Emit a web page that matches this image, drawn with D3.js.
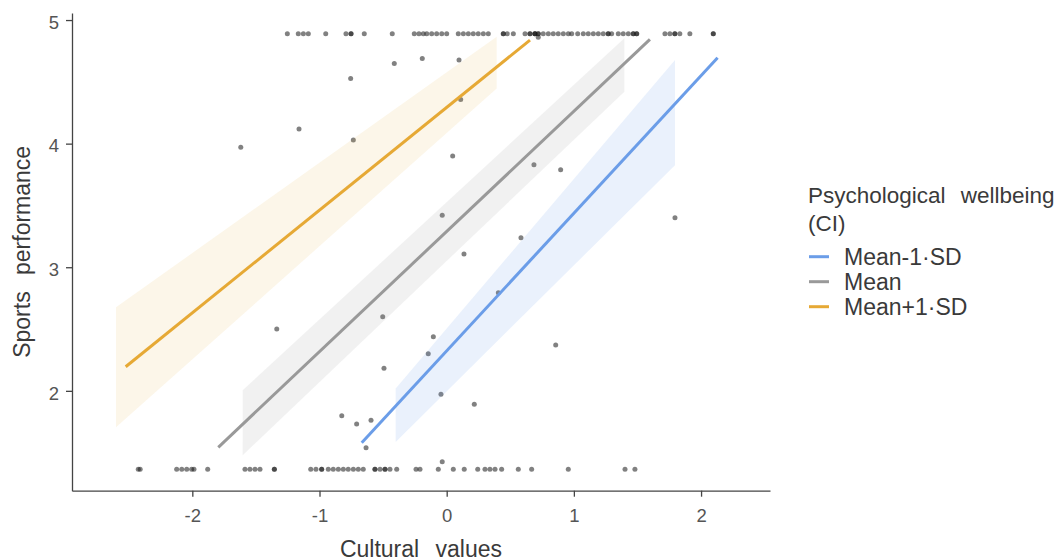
<!DOCTYPE html>
<html>
<head>
<meta charset="utf-8">
<script src="https://cdn.jsdelivr.net/npm/d3@7"></script>
<style>
  body { margin: 0; background: #fff; }
  svg { display: block; font-family: "Liberation Sans", Arial, sans-serif; }
</style>
</head>
<body>
<svg id="chart"></svg>
<script>
// scores piled up at the ceiling / floor of the scale
const topRowY = 4.89;
const topRowX = [-1.253, -1.167, -1.127, -1.088, -0.951, -0.792, -0.752, -0.752, -0.648, -0.428,
  -0.255, -0.218, -0.184, -0.157, -0.118, -0.079, -0.039, 0.000, 0.091, 0.131, 0.170, 0.209,
  0.248, 0.288, 0.327, 0.445, 0.445, 0.476, 0.524, 0.616, 0.655, 0.655, 0.694, 0.694, 0.694,
  0.720, 0.720, 0.759, 0.799, 0.838, 0.877, 0.917, 0.956, 0.983, 1.030, 1.074, 1.113, 1.153,
  1.192, 1.231, 1.270, 1.270, 1.297, 1.349, 1.388, 1.428, 1.467, 1.467, 1.494, 1.494, 1.716,
  1.755, 1.794, 1.794, 1.833, 1.912, 2.096, 2.096];

const bottomRowY = 1.365;
const bottomRowX = [-2.425, -2.41, -2.123, -2.083, -2.044, -2.005, -1.987, -1.879, -1.586, -1.547,
  -1.507, -1.468, -1.355, -1.355, -1.069, -1.028, -0.983, -0.983, -0.931, -0.892, -0.852,
  -0.813, -0.774, -0.734, -0.695, -0.656, -0.564, -0.564, -0.524, -0.485, -0.485, -0.446,
  -0.393, -0.241, -0.21, -0.066, 0.052, 0.138, 0.244, 0.301, 0.340, 0.380, 0.432, 0.563,
  0.668, 0.956, 1.402, 1.480];

// everything in between
const midX = [-0.755, -1.161, -0.734, -1.619, -0.412, -0.192, 0.097, 0.110, 0.047, 0.686, 0.896,
  -0.035, 0.584, 1.795, 0.136, -1.336, -0.503, 0.406, -0.105, -0.145, -0.493, 0.857, -0.045,
  0.217, -0.825, -0.708, -0.595, -0.634, -0.035, 0.720];
const midY = [4.528, 4.118, 4.029, 3.970, 4.648, 4.689, 4.676, 4.358, 3.900, 3.830, 3.789,
  3.420, 3.239, 3.401, 3.107, 2.500, 2.600, 2.794, 2.438, 2.300, 2.182, 2.371, 1.972,
  1.891, 1.799, 1.732, 1.762, 1.540, 1.426, 4.86];

// simple slopes, order: Mean-1SD, Mean, Mean+1SD
const groupNames = ['Mean-1\u00b7SD', 'Mean', 'Mean+1\u00b7SD'];
const groupColors = ['#6b9de8', '#999999', '#e6a935'];
const bandOpacity = [0.14, 0.14, 0.11];
const fitX = [[-0.668, 2.13], [-1.796, 1.598], [-2.524, 0.655]];
const fitY = [[1.58, 4.695], [1.543, 4.844], [2.195, 4.838]];
const bandX = [[-0.401, 1.795], [-1.604, 1.397], [-2.6, 0.393]];
const bandLow = [[1.587, 3.826], [1.479, 4.42], [1.705, 4.447]];
const bandHigh = [[2.019, 4.676], [2.005, 4.852], [2.676, 4.865]];

const xTicks = [-2, -1, 0, 1, 2];
const yTicks = [2, 3, 4, 5];

const width = 1064;
const height = 560;
const plot = { left: 72, right: 770, top: 13, bottom: 490.7 };

const svg = d3.select('#chart')
  .attr('width', width)
  .attr('height', height);

svg.append('rect')
  .attr('width', width)
  .attr('height', height)
  .attr('fill', '#fff');

const x = d3.scaleLinear().domain([-2.946, 2.542]).range([plot.left, plot.right]);
const y = d3.scaleLinear().domain([1.192, 5.057]).range([plot.bottom, plot.top]);

const points = [];
topRowX.forEach(function(v) { points.push({ x: v, y: topRowY }); });
bottomRowX.forEach(function(v) { points.push({ x: v, y: bottomRowY }); });
midX.forEach(function(v, i) { points.push({ x: v, y: midY[i] }); });

svg.append('g').attr('class', 'points')
  .selectAll('circle')
  .data(points)
  .enter()
  .append('circle')
  .attr('cx', function(d) { return x(d.x); })
  .attr('cy', function(d) { return y(d.y); })
  .attr('r', 2.5)
  .attr('fill', '#1a1a1a')
  .attr('fill-opacity', 0.55);

const groups = groupNames.map(function(name, i) {
  return {
    name: name,
    color: groupColors[i],
    opacity: bandOpacity[i],
    line: fitX[i].map(function(v, j) { return { x: v, y: fitY[i][j] }; }),
    band: bandX[i].map(function(v, j) { return { x: v, lo: bandLow[i][j], hi: bandHigh[i][j] }; })
  };
});

const area = d3.area()
  .x(function(d) { return x(d.x); })
  .y0(function(d) { return y(d.lo); })
  .y1(function(d) { return y(d.hi); });

const line = d3.line()
  .x(function(d) { return x(d.x); })
  .y(function(d) { return y(d.y); });

svg.append('g').attr('class', 'bands')
  .selectAll('path')
  .data(groups)
  .enter()
  .append('path')
  .attr('d', function(d) { return area(d.band); })
  .attr('fill', function(d) { return d.color; })
  .attr('fill-opacity', function(d) { return d.opacity; });

svg.append('g').attr('class', 'lines')
  .selectAll('path')
  .data(groups)
  .enter()
  .append('path')
  .attr('d', function(d) { return line(d.line); })
  .attr('fill', 'none')
  .attr('stroke', function(d) { return d.color; })
  .attr('stroke-width', 3);

// axes
const xAxis = svg.append('g')
  .attr('transform', 'translate(0,' + plot.bottom + ')')
  .call(d3.axisBottom(x).tickValues(xTicks).tickSize(6).tickSizeOuter(0).tickPadding(12)
    .tickFormat(function(d) { return String(d); }));

const yAxis = svg.append('g')
  .attr('transform', 'translate(' + plot.left + ',0)')
  .call(d3.axisLeft(y).tickValues(yTicks).tickSize(6).tickSizeOuter(0).tickPadding(7)
    .tickFormat(function(d) { return String(d); }));

[xAxis, yAxis].forEach(function(ax) {
  ax.select('.domain').attr('stroke', '#444').attr('stroke-width', 1.3);
  ax.selectAll('.tick line').attr('stroke', '#444').attr('stroke-width', 1.3);
  ax.selectAll('.tick text')
    .attr('fill', '#555')
    .style('font-size', '18.5px')
    .style('font-family', '"Liberation Sans", Arial, sans-serif');
});
yAxis.selectAll('.tick text').attr('dy', '0.45em');

svg.append('text')
  .attr('x', (plot.left + plot.right) / 2)
  .attr('y', 556.5)
  .attr('text-anchor', 'middle')
  .attr('fill', '#3a3a3a')
  .style('font-size', '23px')
  .style('word-spacing', '10px')
  .text('Cultural values');

svg.append('text')
  .attr('transform', 'translate(30,' + ((plot.top + plot.bottom) / 2) + ') rotate(-90)')
  .attr('text-anchor', 'middle')
  .attr('fill', '#3a3a3a')
  .style('font-size', '23px')
  .style('word-spacing', '10px')
  .text('Sports performance');

// legend
const legend = svg.append('g').attr('class', 'legend')
  .attr('transform', 'translate(808,0)');

legend.append('text')
  .attr('x', 0)
  .attr('y', 202.7)
  .attr('fill', '#3a3a3a')
  .style('font-size', '22.5px')
  .style('word-spacing', '9px')
  .text('Psychological wellbeing');

legend.append('text')
  .attr('x', 0)
  .attr('y', 231)
  .attr('fill', '#3a3a3a')
  .style('font-size', '22.5px')
  .text('(CI)');

const items = legend.selectAll('g.item')
  .data(groups)
  .enter()
  .append('g')
  .attr('class', 'item')
  .attr('transform', function(d, i) { return 'translate(0,' + (256.7 + i * 25) + ')'; });

items.append('line')
  .attr('x1', 1)
  .attr('x2', 21)
  .attr('stroke', function(d) { return d.color; })
  .attr('stroke-width', 3);

items.append('text')
  .attr('x', 36)
  .attr('y', 7.8)
  .attr('fill', '#3a3a3a')
  .style('font-size', '23px')
  .text(function(d) { return d.name; });
</script>
</body>
</html>
